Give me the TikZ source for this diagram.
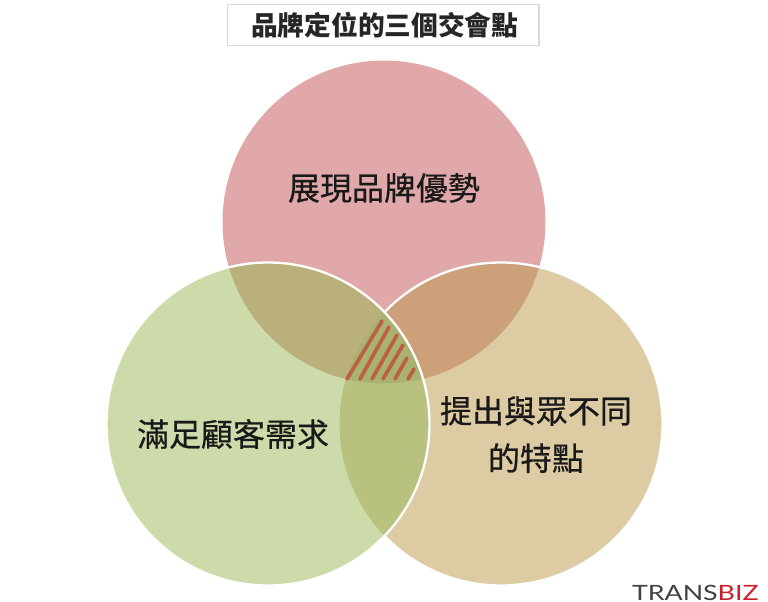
\documentclass[tikz,border=0pt]{standalone}
\usepackage{xcolor}
\usepackage{fontspec}
\setmainfont{Noto Sans CJK TC}
\newfontfamily\ringfont[FakeBold=0.6]{Noto Sans CJK TC}
\newfontfamily\logofont[FakeStretch=1.27]{Lato}
\usepackage{tikz}
\definecolor{topred}{HTML}{E0A8A8}
\definecolor{leftgreen}{HTML}{CCDBA9}
\definecolor{rightsand}{HTML}{DDCBA3}
\definecolor{mixtl}{HTML}{BAB07C}
\definecolor{mixtr}{HTML}{CCA17A}
\definecolor{mixlr}{HTML}{B9C17F}
\definecolor{mixall}{HTML}{AAB272}
\definecolor{hatchred}{HTML}{BC5F45}
\definecolor{logored}{HTML}{C8202C}
\tikzstyle{ringlabel} = [font=\ringfont\fontsize{18.2}{27}\selectfont,align=center,inner sep=0pt,text=black!90]
\tikzstyle{titlebox} = [draw=black!15,line width=0.6pt,fill=white,minimum width=6.24cm,minimum height=0.82cm,inner sep=0pt,font=\fontsize{15.2}{20}\selectfont\bfseries,text=black!85]
\tikzstyle{hatch} = [hatchred,line width=2.1pt,line cap=round]
\tikzstyle{rim} = [white,line width=1.3pt]
\begin{document}
\begin{tikzpicture}[x=0.02cm,y=-0.02cm]
	\useasboundingbox (0,0) rectangle (768,602);

	% Circles:
	\def\rad{161.5}
	\coordinate (topc) at (384,222);
	\coordinate (leftc) at (268,424);
	\coordinate (rightc) at (501,424);
	\fill[topred] (topc) circle (\rad);
	\fill[rightsand] (rightc) circle (\rad);
	\fill[leftgreen] (leftc) circle (\rad);

	% Overlaps:
	\begin{scope}
		\clip (topc) circle (\rad);
		\fill[mixtl] (leftc) circle (\rad);
		\fill[mixtr] (rightc) circle (\rad);
	\end{scope}
	\begin{scope}
		\clip (leftc) circle (\rad);
		\fill[mixlr] (rightc) circle (\rad);
		\clip (topc) circle (\rad);
		\fill[mixall] (rightc) circle (\rad);
	\end{scope}

	% Hatching of the middle part:
	\foreach \xa/\xb/\yb in {347/382/321,360/389/327,372/397/335,383/403/345,395/407/358,408/414/369}
	{
		\draw[hatch] (\xa,379) -- (\xb,\yb);
	}

	% White rims:
	% The right circle has none where it runs inside the left one
	\draw[rim] (leftc) circle (\rad);
	\begin{scope}
		\clip (384.5,0) rectangle (768,602);
		\draw[rim] (rightc) circle (\rad);
	\end{scope}

	% Labels:
	\node[titlebox] (title) at (383,25) {\hspace*{2pt}品牌定位的三個交會點};
	\node[ringlabel] (toplabel) at (384,188) {展現品牌優勢};
	\node[ringlabel] (leftlabel) at (233,434) {滿足顧客需求};
	\node[ringlabel] (rightlabel) at (536,434.5) {提出與眾不同\\的特點};
	\node[inner sep=0pt,anchor=east,font=\logofont\fontsize{12}{12}\selectfont,text=black!75] (logo) at (759,592.5) {TRANS\textcolor{logored}{BIZ}};
\end{tikzpicture}
\end{document}
